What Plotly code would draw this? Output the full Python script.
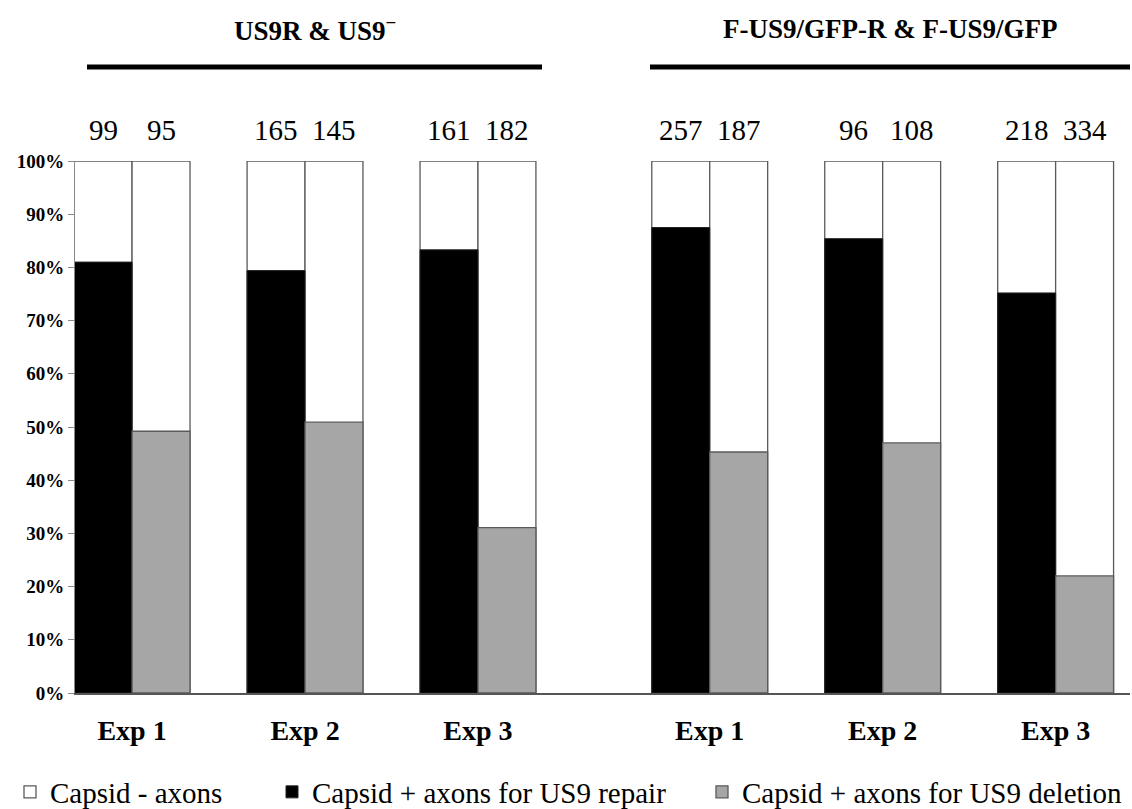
import plotly.graph_objects as go

# ---- data ----
experiments = ["Exp 1", "Exp 2", "Exp 3"]
panel_titles = ["<b>US9R &amp; US9<sup>−</sup></b>", "<b>F-US9/GFP-R &amp; F-US9/GFP</b>"]
repair_pct = [81.0, 79.4, 83.3, 87.5, 85.4, 75.2]      # Capsid + axons for US9 repair (%)
deletion_pct = [49.2, 50.9, 31.1, 45.3, 47.0, 22.0]    # Capsid + axons for US9 deletion (%)
repair_n = [99, 165, 161, 257, 96, 218]
deletion_n = [95, 145, 182, 187, 108, 334]
total_pct = [100] * 6
series_names = ["Capsid - axons", "Capsid + axons for US9 repair", "Capsid + axons for US9 deletion"]

# ---- layout helpers ----
panel_start = [0.33, 3.67]
centers = [panel_start[p] + i for p in range(2) for i in range(len(experiments))]
tick_text = experiments * 2
bw = 0.335
FONT = "Liberation Serif, Times New Roman, serif"
OUT = "#5a5a5a"
L, R, T, B, W, H = 75, 2, 161, 116, 1132, 809
PW = W - L - R
PH = H - T - B

def px_x(px):
    return (px - L) / PW

def px_y(py):
    return (H - B - py) / PH

fig = go.Figure()
fig.add_trace(go.Bar(x=centers, y=total_pct, width=bw, offset=-bw, name=series_names[0],
                     marker=dict(color="white", line=dict(color=OUT, width=1.3)),
                     legend="legend", hoverinfo="skip"))
fig.add_trace(go.Bar(x=centers, y=total_pct, width=bw, offset=0, name=series_names[0],
                     marker=dict(color="white", line=dict(color=OUT, width=1.3)),
                     showlegend=False, hoverinfo="skip"))
fig.add_trace(go.Bar(x=centers, y=repair_pct, width=bw, offset=-bw, name=series_names[1],
                     marker=dict(color="black", line=dict(color="#222", width=1.0)),
                     legend="legend2"))
fig.add_trace(go.Bar(x=centers, y=deletion_pct, width=bw, offset=0, name=series_names[2],
                     marker=dict(color="#a6a6a6", line=dict(color=OUT, width=1.3)),
                     legend="legend3"))

annotations = []
for c, nr, nd in zip(centers, repair_n, deletion_n):
    for xx, n in ((c - bw / 2, nr), (c + bw / 2, nd)):
        annotations.append(dict(x=xx, y=100, xref="x", yref="y", text=str(n), showarrow=False,
                                xanchor="center", yanchor="bottom", yshift=13,
                                font=dict(family=FONT, size=29, color="black")))

line_px = [(87, 542), (650, 1130)]
for (a, b), t in zip(line_px, panel_titles):
    annotations.append(dict(x=(px_x(a) + px_x(b)) / 2, y=px_y(29), xref="paper", yref="paper",
                            text=t, showarrow=False, xanchor="center", yanchor="middle",
                            font=dict(family=FONT, size=27, color="black")))
shapes = [dict(type="line", xref="paper", yref="paper", x0=px_x(a), x1=px_x(b),
               y0=px_y(67), y1=px_y(67), line=dict(color="black", width=5))
          for a, b in line_px]

leg_font = dict(family=FONT, size=29, color="black")
leg_common = dict(orientation="h", xanchor="left", yanchor="middle", y=px_y(792),
                  font=leg_font, itemwidth=30, bgcolor="rgba(0,0,0,0)")

fig.update_layout(
    width=W, height=H,
    margin=dict(l=L, r=R, t=T, b=B, autoexpand=False),
    paper_bgcolor="white", plot_bgcolor="white",
    barmode="overlay",
    font=dict(family=FONT, color="black"),
    showlegend=True,
    legend=dict(x=px_x(10), **leg_common),
    legend2=dict(x=px_x(272), **leg_common),
    legend3=dict(x=px_x(702), **leg_common),
    annotations=annotations,
    shapes=shapes,
)
fig.update_yaxes(range=[0, 100], dtick=10, ticksuffix="%", showgrid=False, zeroline=False,
                 showline=True, linecolor="#888", linewidth=1, ticks="outside", ticklen=6,
                 tickcolor="#888", tickfont=dict(family=FONT, size=19, weight="bold", color="black"))
fig.update_xaxes(range=[0, 6.1], tickvals=centers, ticktext=tick_text, showgrid=False, zeroline=False,
                 showline=True, linecolor="#555", linewidth=1.5, ticks="",
                 ticklabelstandoff=12,
                 tickfont=dict(family=FONT, size=28, weight="bold", color="black"))

fig.write_html("out.html", config={"displayModeBar": False},
               post_script="document.body.style.margin='0';document.body.style.overflow='hidden';")
